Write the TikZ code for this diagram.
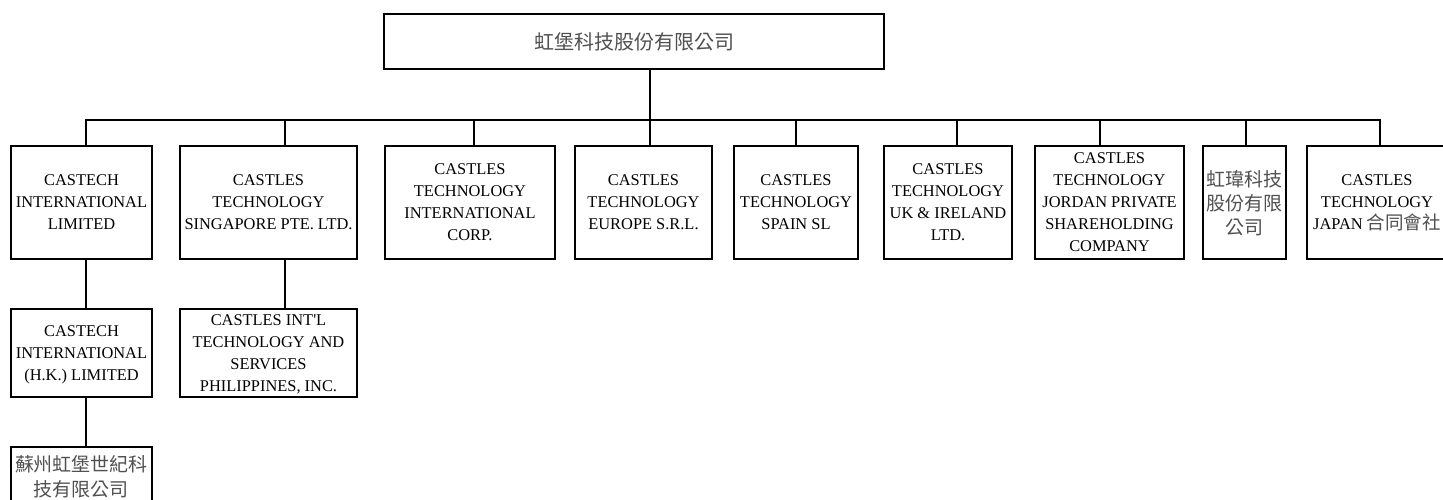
\documentclass[tikz,border=0pt]{standalone}
\usepackage{fontspec}
\setmainfont{Liberation Serif}[Ligatures=TeXOff]
\newfontfamily\cjk{Noto Sans CJK TC}
\definecolor{cjkgray}{RGB}{80,80,80}
\tikzset{
  box/.style={draw, line width=2pt, inner sep=0pt, align=center, fill=white,
    font=\fontsize{16.4}{22}\selectfont, text depth=-5pt},
  cjkbox/.style={box, text=cjkgray, font=\cjk\fontsize{19}{24}\selectfont,
    text depth=-2.5pt},
  link/.style={line width=2.3pt}
}
\newcommand{\cjin}[1]{{\cjk\fontsize{18.5}{22}\selectfont\color{cjkgray}#1}}
\begin{document}
\begin{tikzpicture}[x=1pt,y=-1pt]
\useasboundingbox (0,0) rectangle (1443,499);
\clip (0,0) rectangle (1443,499);
\coordinate (bus) at (0,120);
% top
\node[cjkbox, minimum width=500, minimum height=55, font=\cjk\fontsize{20}{24}\selectfont, text depth=-0.8pt] (top) at (634,41.5) {虹堡科技股份有限公司};
% first row
\node[box, minimum width=141, minimum height=113] (c1) at (81.5,202.5) {CASTECH\\INTERNATIONAL\\LIMITED};
\node[box, minimum width=177, minimum height=113] (c2) at (268.5,202.5) {CASTLES\\TECHNOLOGY\\SINGAPORE PTE. LTD.};
\node[box, minimum width=170, minimum height=113] (c3) at (470,202.5) {CASTLES\\TECHNOLOGY\\INTERNATIONAL\\CORP.};
\node[box, minimum width=137, minimum height=113] (c4) at (643.5,202.5) {CASTLES\\TECHNOLOGY\\EUROPE S.R.L.};
\node[box, minimum width=124, minimum height=113] (c5) at (796,202.5) {CASTLES\\TECHNOLOGY\\SPAIN SL};
\node[box, minimum width=128, minimum height=113] (c6) at (948,202.5) {CASTLES\\TECHNOLOGY\\UK \& IRELAND\\LTD.};
\node[box, minimum width=149, minimum height=113] (c7) at (1109.5,202.5) {CASTLES\\TECHNOLOGY\\JORDAN PRIVATE\\SHAREHOLDING\\COMPANY};
\node[cjkbox, minimum width=83, minimum height=113] (c8) at (1244.5,202.5) {虹瑋科技\\股份有限\\公司};
\node[box, minimum width=140, minimum height=113] (c9) at (1377,202.5) {CASTLES\\TECHNOLOGY\\JAPAN \cjin{合同會社}};
% second row
\node[box, minimum width=141, minimum height=88] (d1) at (81.5,353) {CASTECH\\INTERNATIONAL\\(H.K.) LIMITED};
\node[box, minimum width=177, minimum height=88] (d2) at (268.5,353) {CASTLES INT'L\\TECHNOLOGY AND\\SERVICES\\PHILIPPINES, INC.};
% third row
\node[cjkbox, minimum width=141, minimum height=60, font=\cjk\fontsize{19}{25}\selectfont, text depth=2.3pt] (e1) at (81.5,477) {蘇州虹堡世紀科\\技有限公司};
% connector points
\coordinate (kt) at ([xshift=16]top.south);
\coordinate (k1) at ([xshift=4.5]c1.north);
\coordinate (k2) at ([xshift=16.5]c2.north);
\coordinate (k3) at ([xshift=4]c3.north);
\coordinate (k4) at ([xshift=6.5]c4.north);
\coordinate (k5) at (c5.north);
\coordinate (k6) at ([xshift=9]c6.north);
\coordinate (k7) at ([xshift=-9.5]c7.north);
\coordinate (k8) at ([xshift=1.5]c8.north);
\coordinate (k9) at ([xshift=3]c9.north);
% connectors
\draw[link] (kt) -- (kt |- bus);
\draw[link] (k1) |- (k9 |- bus) -- (k9);
\foreach \k in {k2,k3,k4,k5,k6,k7,k8} \draw[link] (\k) -- (\k |- bus);
\draw[link] (k1 |- c1.south) -- (k1 |- d1.north);
\draw[link] (k2 |- c2.south) -- (k2 |- d2.north);
\draw[link] (k1 |- d1.south) -- (k1 |- e1.north);
\end{tikzpicture}
\end{document}
